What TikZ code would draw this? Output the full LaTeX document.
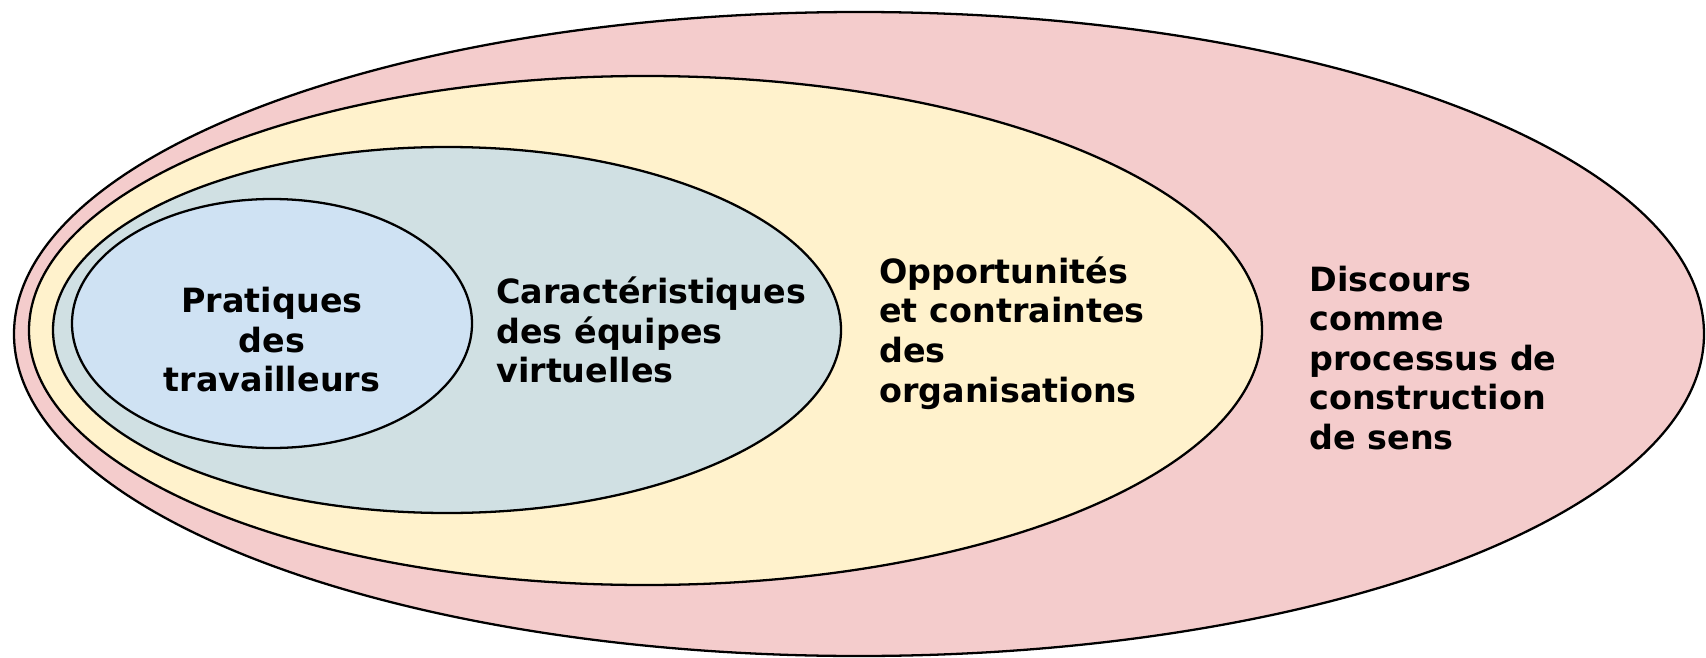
\documentclass[tikz,border=0pt]{standalone}
\usepackage{fontspec}
\setmainfont{DejaVu Sans}
\usepackage{tikz}
\usetikzlibrary{backgrounds}
\usepackage{xcolor}
\definecolor{discourspink}{HTML}{F4CCCC}
\definecolor{orgyellow}{HTML}{FFF2CC}
\definecolor{equipegrey}{HTML}{D0E0E3}
\definecolor{pratiqueblue}{HTML}{CFE2F3}
\tikzstyle{ring}=[draw=black, line width=1.3pt]
\tikzstyle{label}=[font=\fontsize{19}{22.5}\selectfont\bfseries, inner sep=0pt]

\begin{document}
\begin{tikzpicture}[x=0.02cm, y=0.02cm]
	\useasboundingbox (0,0) rectangle (1706,657);
	\draw[ring, fill=discourspink] (859,323) ellipse [x radius=845, y radius=322];
	\draw[ring, fill=orgyellow] (645.5,326.5) ellipse [x radius=616.5, y radius=254.5];
	\draw[ring, fill=equipegrey] (447,327) ellipse [x radius=394, y radius=183];
	\draw[ring, fill=pratiqueblue] (272,333.5) ellipse [x radius=200, y radius=124.5];
	\node[label, align=center] (pratiques) at (272,317) {Pratiques\\des\\travailleurs};
	\node[label, align=left, anchor=west] (equipes) at (496,327) {Caractéristiques\\des équipes\\virtuelles};
	\node[label, align=left, anchor=west] (organisations) at (879,324) {Opportunités\\et contraintes\\des\\organisations};
	\node[label, align=left, anchor=west] (discours) at (1309,299) {Discours\\comme\\processus de\\construction\\de sens};
\end{tikzpicture}
\end{document}
